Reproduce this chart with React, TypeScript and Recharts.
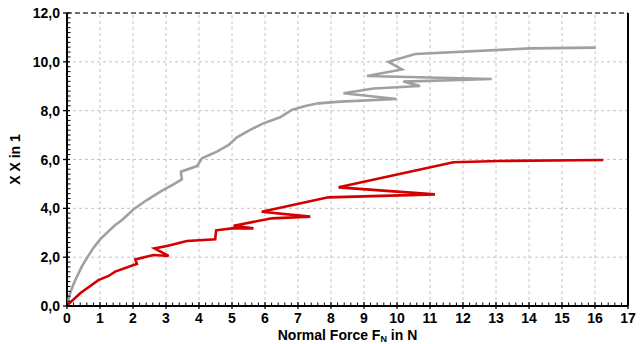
import React from "react";
import { ScatterChart, Scatter, XAxis, YAxis, ReferenceLine, Label } from "recharts";

// Gray series (upper curve)
const grayForce = [0, 0.1, 0.2, 0.3, 0.45, 0.62, 0.8, 1.01, 1.46, 1.67, 2.02, 2.42, 2.83, 3.28, 3.48, 3.45, 3.94, 4.09, 4.54, 4.89, 5.15, 5.55, 5.95, 6.46, 6.81, 7.22, 7.62, 8.28, 9.99, 8.38, 9.29, 10.7, 10.19, 12.87, 9.09, 10.15, 9.74, 10.55, 14.03, 16.02];
const grayValue = [0.04, 0.55, 0.9, 1.2, 1.62, 2.0, 2.38, 2.74, 3.32, 3.52, 3.96, 4.34, 4.68, 5.02, 5.19, 5.5, 5.73, 6.05, 6.32, 6.59, 6.91, 7.21, 7.48, 7.73, 8.03, 8.19, 8.3, 8.37, 8.48, 8.71, 8.91, 9.01, 9.19, 9.3, 9.42, 9.69, 10.0, 10.32, 10.55, 10.58];

// Red series (lower curve)
const redForce = [0, 0.4, 0.95, 1.26, 1.46, 2.02, 2.12, 2.07, 2.62, 3.08, 2.65, 3.03, 3.63, 4.49, 4.52, 5.0, 5.65, 5.05, 6.21, 7.37, 5.9, 7.92, 11.15, 8.23, 11.71, 13.1, 16.25];
const redValue = [0.02, 0.52, 1.06, 1.23, 1.41, 1.68, 1.72, 1.91, 2.09, 2.05, 2.36, 2.46, 2.66, 2.73, 3.1, 3.18, 3.18, 3.29, 3.59, 3.66, 3.86, 4.45, 4.57, 4.86, 5.89, 5.94, 5.98];

// Axis ticks
const xMajorTicks = [0, 1, 2, 3, 4, 5, 6, 7, 8, 9, 10, 11, 12, 13, 14, 15, 16, 17];
const yMajorTicks = [0, 2, 4, 6, 8, 10, 12];
const xMinorStep = 0.2;
const yMinorStep = 0.2;

const X_MAX = 17;
const Y_MAX = 12;

const xAllTicks = Array.from({ length: Math.round(X_MAX / xMinorStep) + 1 }, (_, i) => +(i * xMinorStep).toFixed(4));
const yAllTicks = Array.from({ length: Math.round(Y_MAX / yMinorStep) + 1 }, (_, i) => +(i * yMinorStep).toFixed(4));

const grayData = grayForce.map((x, i) => ({ x, y: grayValue[i] }));
const redData = redForce.map((x, i) => ({ x, y: redValue[i] }));

const FONT = "'Liberation Sans', Arial, sans-serif";

const isMajor = (v: number, list: number[]) => list.some((m) => Math.abs(m - v) < 1e-6);

const XTick = (props: any) => {
  const { x, y, payload } = props;
  const v = payload.value;
  const major = isMajor(v, xMajorTicks);
  return (
    <g>
      {major ? (
        <line x1={x} x2={x} y1={y - 4} y2={y + 3} stroke="#000" strokeWidth={1.3} />
      ) : (
        <line x1={x} x2={x} y1={y - 3.5} y2={y} stroke="#000" strokeWidth={1} />
      )}
      {major && (
        <text x={x} y={y + 16.5} textAnchor="middle" fontSize={14} fontWeight="bold" fill="#000" fontFamily={FONT}>
          {Math.round(v)}
        </text>
      )}
    </g>
  );
};

const YTick = (props: any) => {
  const { x, y, payload } = props;
  const v = payload.value;
  const major = isMajor(v, yMajorTicks);
  return (
    <g>
      {major ? (
        <line x1={x - 4} x2={x + 3} y1={y} y2={y} stroke="#000" strokeWidth={1.3} />
      ) : (
        <line x1={x - 1} x2={x + 3.5} y1={y} y2={y} stroke="#000" strokeWidth={1} />
      )}
      {major && (
        <text x={x - 7} y={y + 5} textAnchor="end" fontSize={14} fontWeight="bold" fill="#000" fontFamily={FONT}>
          {v.toFixed(1).replace(".", ",")}
        </text>
      )}
    </g>
  );
};

const XTitle = (props: any) => {
  const vb = props.viewBox || {};
  const cx = vb.x + vb.width / 2;
  const ty = vb.y + 34;
  return (
    <text x={cx} y={ty} textAnchor="middle" fontSize={14} fontWeight="bold" fill="#000" fontFamily={FONT}>
      Normal Force F
      <tspan fontSize={9} dy={2}>N</tspan>
      <tspan dy={-2}> in N</tspan>
    </text>
  );
};

const YTitle = (props: any) => {
  const vb = props.viewBox || {};
  const cx = vb.x + 20;
  const cy = vb.y + vb.height / 2;
  return (
    <text x={cx} y={cy} textAnchor="middle" fontSize={14} fontWeight="bold" fill="#000" fontFamily={FONT} transform={`rotate(-90 ${cx} ${cy})`}>
      X X in 1
    </text>
  );
};

const NoShape = () => <g />;

const gridX = xMajorTicks.filter((v) => v > 0 && v < X_MAX);
const gridY = yMajorTicks.filter((v) => v > 0 && v < Y_MAX);

export default function App() {
  return (
    <div style={{ position: "absolute", left: 0, top: 0, width: 640, height: 344, background: "#fff" }}>
      <ScatterChart width={640} height={344} margin={{ top: 13, right: 12, bottom: 0, left: 0 }}>
        <XAxis
          type="number"
          dataKey="x"
          domain={[0, X_MAX]}
          ticks={xAllTicks}
          interval={0}
          tickSize={0}
          tickMargin={0}
          tickLine={false}
          tick={<XTick />}
          axisLine={{ stroke: "#000", strokeWidth: 2 }}
          height={38}
          allowDataOverflow
        >
          <Label content={<XTitle />} />
        </XAxis>
        <YAxis
          type="number"
          dataKey="y"
          domain={[0, Y_MAX]}
          ticks={yAllTicks}
          interval={0}
          tickSize={0}
          tickMargin={0}
          tickLine={false}
          tick={<YTick />}
          axisLine={{ stroke: "#000", strokeWidth: 2 }}
          width={67}
          allowDataOverflow
        >
          <Label content={<YTitle />} />
        </YAxis>
        {gridX.map((v) => (
          <ReferenceLine key={"gx" + v} x={v} stroke="#c4c4c4" strokeDasharray="3 3" strokeWidth={1} />
        ))}
        {gridY.map((v) => (
          <ReferenceLine key={"gy" + v} y={v} stroke="#c4c4c4" strokeDasharray="3 3" strokeWidth={1} />
        ))}
        <ReferenceLine y={Y_MAX} stroke="#444" strokeDasharray="5 3" strokeWidth={1.5} />
        <ReferenceLine x={X_MAX} stroke="#000" strokeWidth={2} />
        <Scatter
          data={grayData}
          fill="#a0a0a0"
          line={{ stroke: "#a0a0a0", strokeWidth: 2.6 }}
          lineType="joint"
          shape={<NoShape />}
          isAnimationActive={false}
        />
        <Scatter
          data={redData}
          fill="#d40000"
          line={{ stroke: "#d40000", strokeWidth: 2.6 }}
          lineType="joint"
          shape={<NoShape />}
          isAnimationActive={false}
        />
      </ScatterChart>
    </div>
  );
}
